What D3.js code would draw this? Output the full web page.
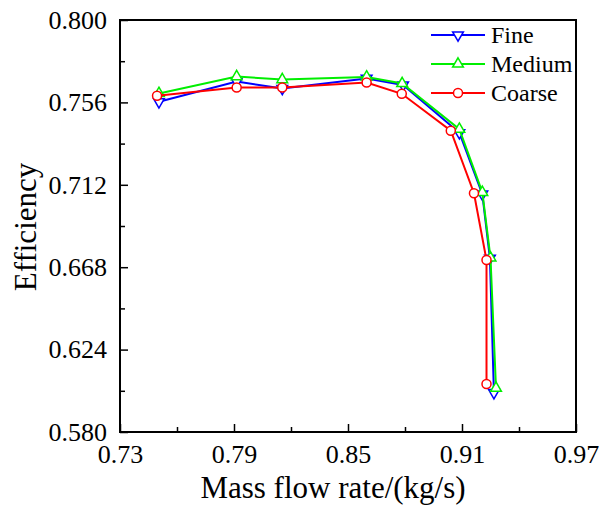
<!DOCTYPE html>
<html>
<head>
<meta charset="utf-8">
<script src="https://cdn.jsdelivr.net/npm/d3@7"></script>
<style>
  body { margin: 0; background: #fff; }
  svg { display: block; }
</style>
</head>
<body>
<svg id="chart" width="610" height="509"></svg>
<script>
// data
const fineX = [0.7505, 0.7914, 0.8154, 0.8598, 0.8790, 0.9086, 0.9207, 0.9247, 0.9268];
const fineY = [0.7563, 0.7671, 0.7634, 0.7688, 0.7653, 0.7398, 0.7070, 0.6727, 0.6010];
const mediumX = [0.7505, 0.7914, 0.8154, 0.8598, 0.8785, 0.9086, 0.9207, 0.9250, 0.9279];
const mediumY = [0.7608, 0.7698, 0.7682, 0.7696, 0.7661, 0.7417, 0.7080, 0.6730, 0.6034];
const coarseX = [0.7495, 0.7914, 0.8154, 0.8598, 0.8783, 0.9041, 0.9163, 0.9229, 0.9229];
const coarseY = [0.7596, 0.7640, 0.7640, 0.7666, 0.7606, 0.7409, 0.7075, 0.6718, 0.6056];

const xMajor = [0.73, 0.79, 0.85, 0.91, 0.97];
const xMinor = [0.76, 0.82, 0.88, 0.94];
const yMajor = [0.580, 0.624, 0.668, 0.712, 0.756, 0.800];
const yMinor = [0.602, 0.646, 0.690, 0.734, 0.778];

const series = [
  { name: "Fine", xs: fineX, ys: fineY, color: "#0000ff", shape: "down" },
  { name: "Medium", xs: mediumX, ys: mediumY, color: "#00ee00", shape: "up" },
  { name: "Coarse", xs: coarseX, ys: coarseY, color: "#ff0000", shape: "circle" }
];

const FONT = "'Liberation Serif', 'DejaVu Serif', serif";

const svg = d3.select("#chart");
const pLeft = 120, pRight = 576, pTop = 20, pBottom = 432;

const x = d3.scaleLinear().domain([0.73, 0.97]).range([pLeft, pRight]);
const y = d3.scaleLinear().domain([0.58, 0.80]).range([pBottom, pTop]);

// ticks point inward
svg.append("g")
  .attr("transform", `translate(0,${pBottom})`)
  .call(d3.axisBottom(x).tickValues(xMajor).tickSize(-8).tickPadding(13).tickFormat(d3.format(".2f")))
  .call(g => g.select(".domain").remove());
svg.append("g")
  .attr("transform", `translate(0,${pBottom})`)
  .call(d3.axisBottom(x).tickValues(xMinor).tickSize(-5).tickFormat(""))
  .call(g => g.select(".domain").remove());

svg.append("g")
  .attr("transform", `translate(${pLeft},0)`)
  .call(d3.axisLeft(y).tickValues(yMajor).tickSize(-8).tickPadding(13).tickFormat(d3.format(".3f")))
  .call(g => g.select(".domain").remove());
svg.append("g")
  .attr("transform", `translate(${pLeft},0)`)
  .call(d3.axisLeft(y).tickValues(yMinor).tickSize(-5).tickFormat(""))
  .call(g => g.select(".domain").remove());

svg.selectAll(".tick text")
  .style("font-family", FONT)
  .style("font-size", "26px")
  .attr("fill", "#000");
svg.selectAll(".tick line").attr("stroke", "#000").attr("stroke-width", 1.5);

// frame
svg.append("rect")
  .attr("x", pLeft).attr("y", pTop)
  .attr("width", pRight - pLeft).attr("height", pBottom - pTop)
  .attr("fill", "none").attr("stroke", "#000").attr("stroke-width", 2);

function marker(shape) {
  if (shape === "circle") return d3.symbol().type(d3.symbolCircle).size(64)();
  return d3.symbol().type(d3.symbolTriangle).size(50)();
}

const line = d3.line().x(d => x(d[0])).y(d => y(d[1]));

series.forEach(s => {
  const pts = s.xs.map((v, i) => [v, s.ys[i]]);
  svg.append("path")
    .attr("d", line(pts))
    .attr("fill", "none")
    .attr("stroke", s.color)
    .attr("stroke-width", 2);
  svg.selectAll(null).data(pts).enter().append("path")
    .attr("d", marker(s.shape))
    .attr("transform", d => `translate(${x(d[0])},${y(d[1])})` + (s.shape === "down" ? " rotate(180)" : ""))
    .attr("fill", "#fff")
    .attr("stroke", s.color)
    .attr("stroke-width", 1.5);
});

// legend
const legend = svg.append("g");
series.forEach((s, i) => {
  const ly = 35 + i * 29;
  legend.append("line")
    .attr("x1", 431).attr("x2", 485).attr("y1", ly).attr("y2", ly)
    .attr("stroke", s.color).attr("stroke-width", 2);
  legend.append("path")
    .attr("d", marker(s.shape))
    .attr("transform", `translate(458,${ly})` + (s.shape === "down" ? " rotate(180)" : ""))
    .attr("fill", "#fff").attr("stroke", s.color).attr("stroke-width", 1.5);
  legend.append("text")
    .attr("x", 491).attr("y", ly).attr("dy", "0.35em")
    .style("font-family", FONT)
    .style("font-size", "24px")
    .text(s.name);
});

// axis titles
svg.append("text")
  .attr("x", 333).attr("y", 498)
  .attr("text-anchor", "middle")
  .style("font-family", FONT)
  .style("font-size", "31px")
  .text("Mass flow rate/(kg/s)");

svg.append("text")
  .attr("transform", "translate(36,227) rotate(-90)")
  .attr("text-anchor", "middle")
  .style("font-family", FONT)
  .style("font-size", "31px")
  .text("Efficiency");
</script>
</body>
</html>
